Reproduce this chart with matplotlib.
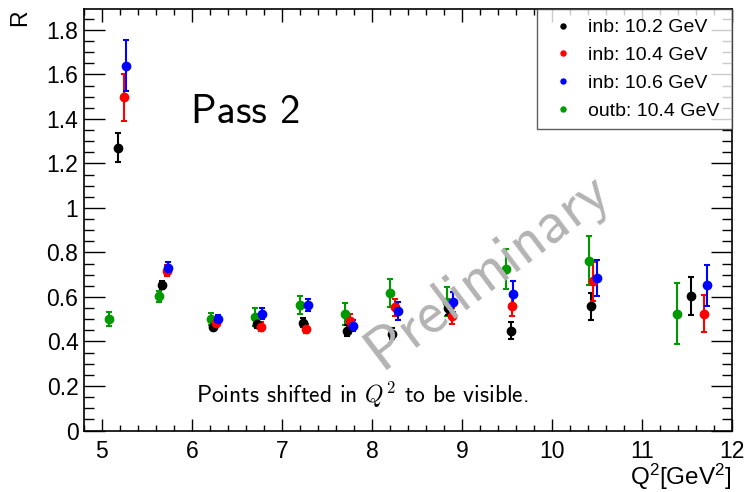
import numpy as np
import matplotlib
matplotlib.use('Agg')
import matplotlib.pyplot as plt
from matplotlib.ticker import MultipleLocator, FuncFormatter

# R vs Q^2 (points shifted in Q^2 so they are visible)
q2_inb102 = [5.18, 5.67, 6.23, 6.72, 7.23, 7.72, 8.22, 8.84, 9.547, 10.43, 11.547]
r_inb102 = [1.27, 0.654, 0.467, 0.479, 0.485, 0.449, 0.434, 0.549, 0.449, 0.558, 0.604]
e_inb102 = [0.065, 0.02, 0.015, 0.02, 0.02, 0.025, 0.025, 0.03, 0.04, 0.06, 0.085]

q2_inb104 = [5.25, 5.72, 6.27, 6.77, 7.27, 7.76, 8.26, 8.89, 9.558, 10.46, 11.687]
r_inb104 = [1.497, 0.718, 0.485, 0.467, 0.458, 0.494, 0.553, 0.515, 0.56, 0.67, 0.524]
e_inb104 = [0.105, 0.025, 0.02, 0.02, 0.02, 0.03, 0.04, 0.035, 0.045, 0.087, 0.083]

q2_inb106 = [5.27, 5.735, 6.29, 6.78, 7.29, 7.79, 8.29, 8.905, 9.57, 10.50, 11.724]
r_inb106 = [1.64, 0.732, 0.501, 0.524, 0.564, 0.471, 0.537, 0.579, 0.615, 0.684, 0.652]
e_inb106 = [0.113, 0.025, 0.02, 0.025, 0.025, 0.025, 0.04, 0.045, 0.055, 0.08, 0.092]

q2_outb104 = [5.083, 5.63, 6.206, 6.705, 7.20, 7.70, 8.20, 8.83, 9.49, 10.406, 11.39]
r_outb104 = [0.501, 0.604, 0.501, 0.51, 0.563, 0.524, 0.618, 0.579, 0.727, 0.762, 0.525]
e_outb104 = [0.03, 0.025, 0.025, 0.04, 0.04, 0.048, 0.065, 0.065, 0.09, 0.11, 0.138]

labels = ['inb: 10.2 GeV', 'inb: 10.4 GeV', 'inb: 10.6 GeV', 'outb: 10.4 GeV']
colors = ['black', '#ff0000', '#0000ff', '#009900']

plt.rcParams['font.family'] = ['Liberation Sans', 'DejaVu Sans']
plt.rcParams['mathtext.fontset'] = 'custom'
plt.rcParams['mathtext.rm'] = 'Liberation Sans'
plt.rcParams['mathtext.it'] = 'Liberation Sans:italic'

fig = plt.figure(figsize=(7.47, 4.92), dpi=100)
ax = fig.add_axes([0.1124, 0.125, 0.8675, 0.8567])

series = [(q2_outb104, r_outb104, e_outb104, 3),
          (q2_inb102, r_inb102, e_inb102, 0),
          (q2_inb104, r_inb104, e_inb104, 1),
          (q2_inb106, r_inb106, e_inb106, 2)]
handles = [None] * 4
for x, y, e, i in series:
    h = ax.errorbar(x, y, yerr=e, fmt='o', color=colors[i], markersize=6,
                    elinewidth=1.5, capsize=2.5, capthick=1.5)
    handles[i] = h[0]

ax.set_xlim(4.8, 12)
ax.set_ylim(0, 1.894)

ax.xaxis.set_major_locator(MultipleLocator(1))
ax.xaxis.set_minor_locator(MultipleLocator(0.2))
ax.yaxis.set_major_locator(MultipleLocator(0.2))
ax.yaxis.set_minor_locator(MultipleLocator(0.05))
ax.yaxis.set_major_formatter(FuncFormatter(lambda v, p: '%g' % round(v, 2)))

ax.tick_params(which='both', direction='in', top=True, right=True, width=1)
ax.tick_params(axis='x', which='major', length=9, labelsize=16.5, pad=7)
ax.tick_params(axis='x', which='minor', length=4.5)
ax.tick_params(axis='y', which='major', length=15, labelsize=16.5, pad=4)
ax.tick_params(axis='y', which='minor', length=7.5)
for s in ax.spines.values():
    s.set_linewidth(1.2)

ax.set_xlabel(r'Q$^{2}$[GeV$^{2}$]', fontsize=17.5, ha='right', va='top')
ax.xaxis.set_label_coords(1.0, -0.075)
ax.set_ylabel('R', fontsize=16.5, ha='right', va='center')
ax.yaxis.set_label_coords(-0.099, 1.0)

ax.text(0.165, 0.729, 'Pass 2', transform=ax.transAxes, fontsize=29,
        family='cmss10', ha='left', va='baseline')
ax.text(0.429, 0.065, r'Points shifted in $Q^2$ to be visible.', transform=ax.transAxes,
        fontsize=17, family='cmss10', math_fontfamily='cm', ha='center', va='baseline')
ax.text(0.622, 0.378, 'Preliminary', transform=ax.transAxes, fontsize=44,
        family='cmss10', color='#b3b3b3', rotation=37, ha='center', va='center',
        rotation_mode='anchor')

leg = ax.legend(handles, labels, loc='upper left', bbox_to_anchor=(0.699, 0.0, 0.301, 1.0),
                mode='expand', borderaxespad=0, fontsize=14, markerscale=0.6,
                fancybox=False, handlelength=1.65, handletextpad=0.47,
                labelspacing=0.52, borderpad=0.5)
leg.get_frame().set_edgecolor('#333333')
leg.get_frame().set_linewidth(1)

fig.savefig('out.png', dpi=100)
